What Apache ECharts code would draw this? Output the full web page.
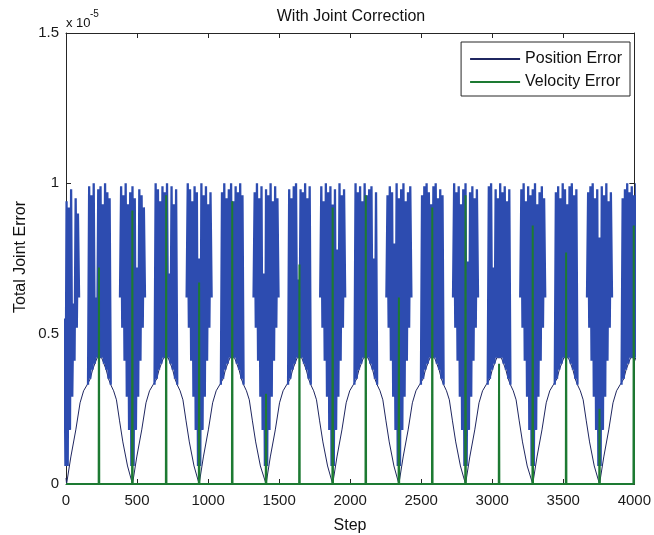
<!DOCTYPE html>
<html>
<head>
<meta charset="utf-8">
<title>With Joint Correction</title>
<script src="https://cdn.jsdelivr.net/npm/echarts@6/dist/echarts.min.js"></script>
<style>
  html, body { margin: 0; padding: 0; background: #fff; }
  #chart { width: 654px; height: 535px; }
</style>
</head>
<body>
<div id="chart"></div>
<script>
// All error values are in units of 1e-5 (the axis carries the "x 10^-5" factor).

// Tick labels
const xTicks = [0, 500, 1000, 1500, 2000, 2500, 3000, 3500, 4000];
const yTicks = [0, 0.5, 1, 1.5];

// Slow lower trace of the position error between the spike bursts: [step, value]
const slowCurve = [
  [0, 0.02], [4, 0], [34, 0.09], [69, 0.18], [99, 0.27], [124, 0.31], [149, 0.33],
  [335, 0.31], [355, 0.28], [377, 0.21], [400, 0.14], [433, 0.06], [468, 0],
  [498, 0.09], [533, 0.18], [563, 0.27], [588, 0.31], [613, 0.33],
  [803, 0.31], [823, 0.28], [845, 0.21], [868, 0.14], [901, 0.06], [937, 0],
  [967, 0.09], [1002, 0.18], [1032, 0.27], [1057, 0.31], [1082, 0.33],
  [1270, 0.31], [1290, 0.28], [1312, 0.21], [1335, 0.14], [1368, 0.06], [1408, 0],
  [1438, 0.09], [1473, 0.18], [1503, 0.27], [1528, 0.31], [1553, 0.33],
  [1743, 0.31], [1763, 0.28], [1785, 0.21], [1808, 0.14], [1841, 0.06], [1877, 0],
  [1907, 0.09], [1942, 0.18], [1972, 0.27], [1997, 0.31], [2022, 0.33],
  [2210, 0.31], [2230, 0.28], [2252, 0.21], [2275, 0.14], [2308, 0.06], [2343, 0],
  [2373, 0.09], [2408, 0.18], [2438, 0.27], [2463, 0.31], [2488, 0.33],
  [2678, 0.31], [2698, 0.28], [2720, 0.21], [2743, 0.14], [2776, 0.06], [2812, 0],
  [2842, 0.09], [2877, 0.18], [2907, 0.27], [2932, 0.31], [2957, 0.33],
  [3148, 0.31], [3168, 0.28], [3190, 0.21], [3213, 0.14], [3246, 0.06], [3285, 0],
  [3315, 0.09], [3350, 0.18], [3380, 0.27], [3405, 0.31], [3430, 0.33],
  [3620, 0.31], [3640, 0.28], [3662, 0.21], [3685, 0.14], [3718, 0.06], [3755, 0],
  [3785, 0.09], [3820, 0.18], [3850, 0.27], [3875, 0.31], [3900, 0.33]
];

// Spike bursts sit on the tops of the slow trace (humps) and around its zeros (dips)
const burstStep = 8;
const humpCentres = [235, 703, 1170, 1643, 2110, 2578, 3048, 3520, 3990];
const humpFloor = [0.33, 0.35, 0.38, 0.40, 0.42, 0.42, 0.42, 0.40, 0.38, 0.35, 0.33];
const humpTops = [
  [0.99, 0.96, 1.00, 0.62, 0.98, 0.99, 0.93, 1.00, 0.97, 0.95],
  [1.00, 0.98, 0.94, 0.99, 0.97, 1.00, 0.70, 0.99, 0.93, 0.98],
  [0.97, 1.00, 0.95, 0.98, 1.00, 0.94, 0.99, 0.97, 1.00, 0.96],
  [0.98, 0.95, 0.99, 1.00, 0.68, 0.98, 0.97, 1.00, 0.95, 0.99],
  [1.00, 0.97, 0.99, 0.94, 1.00, 0.96, 0.98, 0.99, 0.75, 0.97],
  [0.96, 0.99, 1.00, 0.97, 0.93, 0.99, 1.00, 0.95, 0.98, 0.96],
  [0.99, 1.00, 0.72, 0.98, 0.95, 1.00, 0.97, 0.99, 0.94, 0.98],
  [0.97, 0.99, 0.95, 1.00, 0.98, 0.93, 0.99, 1.00, 0.96, 0.98],
  [0.95, 0.98, 1.00, 0.97, 0.99, 0.96, 1.00, 0.94, 0.98, 0.97]
];
const dipCentres = [4, 468, 937, 1408, 1877, 2343, 2812, 3285, 3755];
const dipFloor = [0.62, 0.52, 0.41, 0.29, 0.18, 0.06, 0.06, 0.18, 0.29, 0.41, 0.52, 0.62];
const dipTops = [
  [0.95, 0.93, 0.98, 0.97, 0.55, 0.94, 0.92, 0.98, 0.60, 0.95, 0.90],
  [0.99, 0.96, 1.00, 0.93, 0.97, 0.99, 0.95, 0.72, 0.98, 0.96, 0.92],
  [1.00, 0.98, 0.94, 0.99, 0.97, 0.75, 1.00, 0.96, 0.99, 0.93, 0.97],
  [0.97, 1.00, 0.95, 0.99, 0.70, 0.98, 0.96, 1.00, 0.94, 0.99, 0.95],
  [0.99, 0.94, 1.00, 0.97, 0.99, 0.93, 0.98, 0.78, 1.00, 0.96, 0.98],
  [0.96, 0.99, 0.97, 0.80, 1.00, 0.95, 0.98, 1.00, 0.94, 0.97, 0.99],
  [1.00, 0.97, 0.99, 0.93, 0.98, 1.00, 0.74, 0.97, 0.99, 0.95, 0.98],
  [0.98, 1.00, 0.94, 0.99, 0.96, 0.98, 1.00, 0.93, 0.97, 0.99, 0.95],
  [0.97, 0.99, 1.00, 0.95, 0.98, 0.82, 0.99, 0.96, 1.00, 0.94, 0.97]
];

// Velocity error: zero except single-step spikes
const velSteps = [232, 467, 705, 937, 1170, 1408, 1643, 1877, 2110, 2343, 2578, 2812, 3048, 3285, 3520, 3755, 3996];
const velPeaks = [0.72, 0.91, 0.96, 0.67, 0.94, 0.30, 0.73, 0.92, 0.96, 0.62, 0.92, 0.96, 0.40, 0.86, 0.77, 0.25, 0.86];

// ---- build series data ----
function burst(centre, floor, tops, firstOffset) {
  const pts = [];
  const n = floor.length + tops.length;
  for (let i = 0; i < n; i++) {
    const v = i % 2 === 0 ? floor[i / 2] : tops[(i - 1) / 2];
    pts.push([centre + firstOffset + burstStep * i, v]);
  }
  return pts;
}

// Slow trace, running through the floor of every hump burst
let trace = slowCurve.map(p => p.slice());
humpCentres.forEach(c => {
  humpFloor.forEach((v, i) => trace.push([c - 80 + 2 * burstStep * i, v]));
});
trace.sort((a, b) => a[0] - b[0]);

// Dense spikes, one broken-off stroke per burst
const burstData = [];
humpCentres.forEach((c, k) => {
  burstData.push([c, '-']);
  burst(c, humpFloor, humpTops[k], -80).forEach(p => burstData.push(p));
});
dipCentres.forEach((c, k) => {
  burstData.push([c, '-']);
  burst(c, dipFloor, dipTops[k], -88).forEach(p => burstData.push(p));
});

const velData = [[0, 0]];
velSteps.forEach((s, i) => {
  velData.push([s - 2, 0], [s, velPeaks[i]], [s + 2, 0]);
});
velData.push([4000, 0]);

// ---- chart ----
const FONT = '"Liberation Sans", Arial, Helvetica, sans-serif';
const AXIS = '#262626';
const TRACE_COLOR = '#1f2660';
const BURST_COLOR = '#2d4cb0';
const VEL_COLOR = '#1d7a32';

const chart = echarts.init(document.getElementById('chart'), null, { renderer: 'canvas' });

const boxAxis = (extra) => Object.assign({
  type: 'value',
  axisLine: { show: true, onZero: false, lineStyle: { color: AXIS, width: 1 } },
  axisTick: { show: true, inside: true, length: 5, lineStyle: { color: AXIS } },
  splitLine: { show: false }
}, extra);

const plain = v => String(v);

chart.setOption({
  animation: false,
  backgroundColor: '#fff',
  grid: { left: 66, right: 17, top: 33, bottom: 51 },
  xAxis: [
    boxAxis({
      position: 'bottom', min: xTicks[0], max: xTicks[xTicks.length - 1], interval: 500,
      axisLabel: { color: '#1a1a1a', fontSize: 15, fontFamily: FONT, margin: 9, formatter: plain }
    }),
    boxAxis({
      position: 'top', min: xTicks[0], max: xTicks[xTicks.length - 1], interval: 500,
      axisLabel: { show: false }
    })
  ],
  yAxis: [
    boxAxis({
      position: 'left', min: yTicks[0], max: yTicks[yTicks.length - 1], interval: 0.5,
      axisLabel: { color: '#1a1a1a', fontSize: 15, fontFamily: FONT, margin: 7, formatter: plain }
    }),
    boxAxis({
      position: 'right', min: yTicks[0], max: yTicks[yTicks.length - 1], interval: 0.5,
      axisLabel: { show: false }
    })
  ],
  legend: {
    data: ['Position Error', 'Velocity Error'],
    orient: 'vertical',
    right: 24,
    top: 42,
    icon: 'rect',
    itemWidth: 50,
    itemHeight: 2,
    itemGap: 7,
    padding: [9, 8, 6, 9],
    borderColor: AXIS,
    borderWidth: 1,
    backgroundColor: '#fff',
    selectedMode: false,
    textStyle: { fontSize: 16, fontFamily: FONT, color: '#111', lineHeight: 16 }
  },
  graphic: [
    { type: 'text', x: 351, y: 17, style: { text: 'With Joint Correction', font: '16px ' + FONT, fill: '#111', align: 'center', verticalAlign: 'middle' }, z: 10 },
    { type: 'text', x: 66, y: 17, style: { text: 'x 10', font: '13px ' + FONT, fill: '#111' }, z: 10 },
    { type: 'text', x: 90, y: 9, style: { text: '-5', font: '10px ' + FONT, fill: '#111' }, z: 10 },
    { type: 'text', x: 350, y: 526, style: { text: 'Step', font: '16px ' + FONT, fill: '#111', align: 'center', verticalAlign: 'middle' }, z: 10 },
    { type: 'text', x: 21, y: 257, rotation: Math.PI / 2, style: { text: 'Total Joint Error', font: '16px ' + FONT, fill: '#111', align: 'center', verticalAlign: 'middle' }, z: 10 }
  ],
  series: [
    {
      name: 'Position Error',
      type: 'line',
      data: trace,
      symbol: 'none',
      clip: true,
      lineStyle: { color: TRACE_COLOR, width: 1 },
      itemStyle: { color: TRACE_COLOR },
      z: 2
    },
    {
      name: 'Position Error',
      type: 'line',
      data: burstData,
      symbol: 'none',
      connectNulls: false,
      clip: true,
      lineStyle: { color: BURST_COLOR, width: 2.3 },
      itemStyle: { color: BURST_COLOR },
      z: 2
    },
    {
      name: 'Velocity Error',
      type: 'line',
      data: velData,
      symbol: 'none',
      clip: true,
      lineStyle: { color: VEL_COLOR, width: 2 },
      itemStyle: { color: VEL_COLOR },
      z: 3
    }
  ]
});
</script>
</body>
</html>
